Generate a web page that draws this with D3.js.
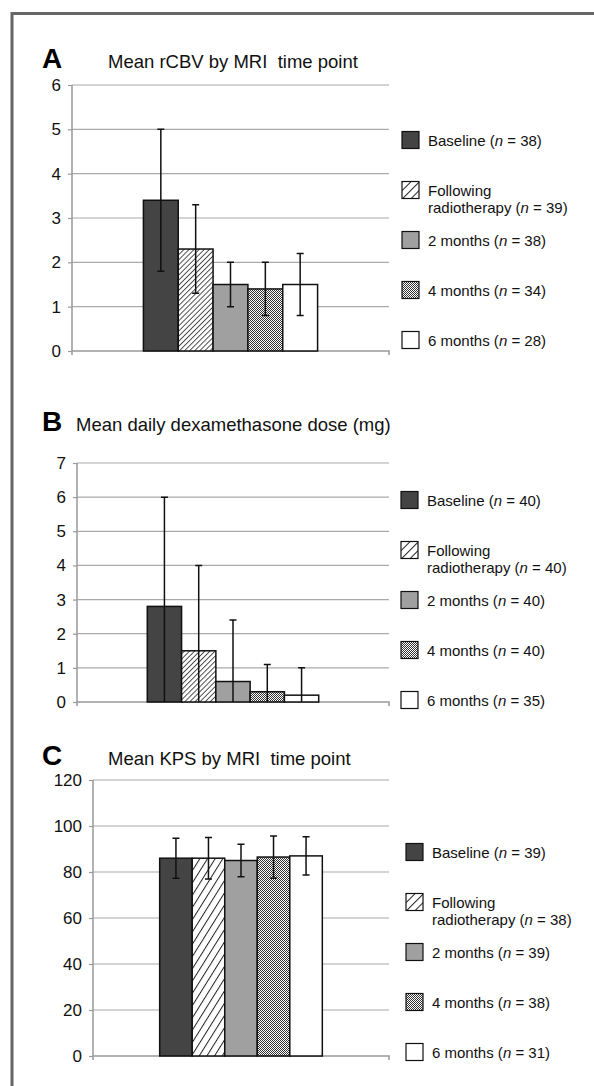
<!DOCTYPE html>
<html>
<head>
<meta charset="utf-8">
<script src="https://cdn.jsdelivr.net/npm/d3@7"></script>
<style>
body { margin: 0; background: #fff; }
svg { display: block; font-family: "Liberation Sans", Arial, Helvetica, sans-serif; }
</style>
</head>
<body>
<div></div>
<script>
const width = 594, height = 1086
const svg = d3.select("div")
    .append("svg")
    .attr("xmlns", "http://www.w3.org/2000/svg")
    .attr("width", width)
    .attr("height", height)

// data
const series = ["Baseline", "Following radiotherapy", "2 months", "4 months", "6 months"]
const rcbvMean = [3.4, 2.3, 1.5, 1.4, 1.5]
const rcbvSd = [1.6, 1.0, 0.5, 0.6, 0.7]
const rcbvN = [38, 39, 38, 34, 28]
const rcbvTicks = [0, 1, 2, 3, 4, 5, 6]
const dexMean = [2.8, 1.5, 0.6, 0.3, 0.2]
const dexSd = [3.2, 2.5, 1.8, 0.8, 0.8]
const dexN = [40, 40, 40, 40, 35]
const dexTicks = [0, 1, 2, 3, 4, 5, 6, 7]
const kpsMean = [86, 86, 85, 86.5, 87]
const kpsSd = [8.7, 9, 7.1, 9.2, 8.3]
const kpsN = [39, 38, 39, 38, 31]
const kpsTicks = [0, 20, 40, 60, 80, 100, 120]

// settings
const gridColor = "#aaa"
const axisColor = "#999"
const fills = ["#444", "url(#hatch)", "#a0a0a0", "url(#dots)", "#fff"]

// patterns
const defs = svg.append("defs")
function hatch(id, step, angle, sw) {
    const p = defs.append("pattern").attr("id", id)
        .attr("patternUnits", "userSpaceOnUse")
        .attr("width", step).attr("height", step)
        .attr("patternTransform", `rotate(${angle})`)
    p.append("rect").attr("width", step).attr("height", step).attr("fill", "#fff")
    p.append("line").attr("x1", 0.5).attr("y1", 0).attr("x2", 0.5).attr("y2", step)
        .attr("stroke", "#222").attr("stroke-width", sw)
}
hatch("hatch", 3.6, 45, 0.8)
hatch("hatchC", 6.5, 32, 1)
hatch("hatchL", 6, 45, 1)
const dots = defs.append("pattern").attr("id", "dots")
    .attr("patternUnits", "userSpaceOnUse").attr("width", 2).attr("height", 2)
dots.append("rect").attr("width", 2).attr("height", 2).attr("fill", "#fff")
dots.append("rect").attr("width", 1).attr("height", 1).attr("fill", "#333")
dots.append("rect").attr("x", 1).attr("y", 1).attr("width", 1).attr("height", 1).attr("fill", "#333")

// frame (top and left edge only)
svg.append("path")
    .attr("d", "M12,1086 V13.5 H594")
    .attr("fill", "none")
    .attr("stroke", "#666")
    .attr("stroke-width", 3)

function drawPanel(p) {
    const g = svg.append("g")
    const y = d3.scaleLinear().domain([0, d3.max(p.ticks)]).range([p.bottom, p.top])
    const x0 = d3.scaleBand().domain(["all"]).range([p.left, p.right]).paddingOuter(0.41).paddingInner(0)
    const x = d3.scaleBand().domain(series).range([x0("all"), x0("all") + x0.bandwidth()])

    // grid
    g.selectAll().data(p.ticks.filter(d => d > 0)).enter().append("line")
        .attr("x1", p.left).attr("x2", p.right)
        .attr("y1", d => y(d)).attr("y2", d => y(d))
        .attr("stroke", gridColor).attr("stroke-width", 1.2)

    // y axis
    const ax = g.append("g")
        .attr("transform", `translate(${p.left},0)`)
        .call(d3.axisLeft(y).tickValues(p.ticks).tickFormat(d3.format("d"))
            .tickSize(4).tickPadding(7).tickSizeOuter(0))
    ax.select(".domain").attr("stroke", axisColor).attr("stroke-width", 1.5)
        .attr("d", `M0,${p.top}V${p.bottom + 4}`)
    ax.selectAll(".tick line").attr("stroke", axisColor).attr("stroke-width", 1.2)
    ax.selectAll(".tick text").attr("font-size", 17).attr("fill", "#111")
        .attr("font-family", "\"Liberation Sans\", Arial, sans-serif")

    // x axis baseline with end ticks
    g.append("path")
        .attr("d", `M${p.left},${p.bottom}H${p.right}V${p.bottom + 4}`)
        .attr("fill", "none").attr("stroke", axisColor).attr("stroke-width", 1.5)

    // bars
    const rows = series.map((s, i) => ({ s, i, m: p.mean[i], sd: p.sd[i] }))
    g.selectAll().data(rows).enter().append("rect")
        .attr("x", d => x(d.s))
        .attr("y", d => y(d.m))
        .attr("width", x.bandwidth())
        .attr("height", d => y(0) - y(d.m))
        .attr("fill", d => d.i == 1 ? `url(#${p.hatch})` : fills[d.i])
        .attr("stroke", "#111")
        .attr("stroke-width", 1.5)

    // error bars
    const cx = d => x(d.s) + x.bandwidth() / 2
    const lo = d => Math.max(0, d.m - d.sd)
    g.selectAll().data(rows).enter().append("path")
        .attr("d", d => {
            const top = y(d.m + d.sd), bot = y(lo(d))
            let s = `M${cx(d)},${top}V${bot}M${cx(d) - 3.5},${top}H${cx(d) + 3.5}`
            if (d.m - d.sd > 0) s += `M${cx(d) - 3.5},${bot}H${cx(d) + 3.5}`
            return s
        })
        .attr("fill", "none").attr("stroke", "#111").attr("stroke-width", 1.5)

    // panel letter + title
    g.append("text").attr("x", p.letterX).attr("y", p.titleY)
        .attr("font-size", 28).attr("font-weight", "bold").attr("fill", "#000")
        .text(p.letter)
    g.append("text").attr("x", p.titleX).attr("y", p.titleY)
        .attr("font-size", 18.5).attr("fill", "#111")
        .attr("xml:space", "preserve")
        .text(p.title)

    // legend
    const leg = g.selectAll().data(rows).enter().append("g")
        .attr("transform", d => `translate(${p.legendX},${p.legendY + d.i * 50})`)
    leg.append("rect")
        .attr("x", 0).attr("y", -8.5).attr("width", 17).attr("height", 17)
        .attr("fill", d => d.i == 1 ? "url(#hatchL)" : fills[d.i])
        .attr("stroke", "#111").attr("stroke-width", 1.2)
    leg.each(function(d) {
        const el = d3.select(this)
        const lines = d.i == 1 ? ["Following", "radiotherapy"] : [d.s]
        lines.forEach((l, k) => {
            const t = el.append("text").attr("x", 26).attr("y", 6 + k * 16.5)
                .attr("font-size", 15).attr("fill", "#111")
            t.append("tspan").text(l)
            if (k == lines.length - 1) {
                t.append("tspan").text(" (")
                t.append("tspan").attr("font-style", "italic").text("n")
                t.append("tspan").text(` = ${p.n[d.i]})`)
            }
        })
    })
}

drawPanel({
    letter: "A", title: "Mean rCBV by MRI  time point",
    mean: rcbvMean, sd: rcbvSd, n: rcbvN, ticks: rcbvTicks, hatch: "hatch",
    left: 72, right: 389, top: 85, bottom: 351,
    letterX: 42, titleX: 108, titleY: 68, legendX: 402, legendY: 140
})
drawPanel({
    letter: "B", title: "Mean daily dexamethasone dose (mg)",
    mean: dexMean, sd: dexSd, n: dexN, ticks: dexTicks, hatch: "hatch",
    left: 77, right: 389, top: 463, bottom: 702,
    letterX: 42, titleX: 76, titleY: 431, legendX: 401, legendY: 500
})
drawPanel({
    letter: "C", title: "Mean KPS by MRI  time point",
    mean: kpsMean, sd: kpsSd, n: kpsN, ticks: kpsTicks, hatch: "hatchC",
    left: 93, right: 389, top: 780, bottom: 1056,
    letterX: 42, titleX: 108, titleY: 765, legendX: 406, legendY: 852
})
</script>
</body>
</html>
